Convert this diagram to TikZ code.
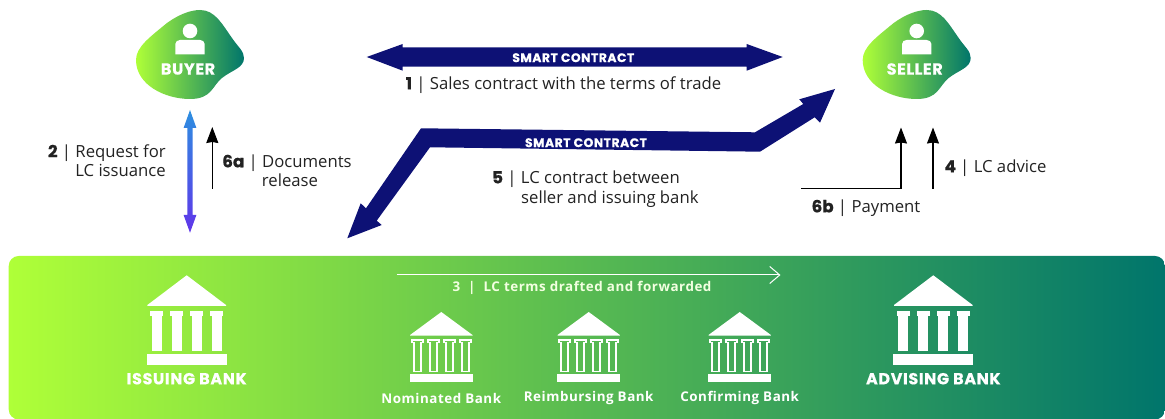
\documentclass[tikz,border=0pt]{standalone}
\usepackage{fontspec}
\usetikzlibrary{arrows.meta}
\setmainfont{Open Sans}
\newfontfamily\headfont[LetterSpace=4, BoldFeatures={FakeBold=0.5}]{Poppins}
\newfontfamily\numfont[BoldFeatures={FakeBold=0.8}]{Poppins}
\newfontfamily\tagfont[LetterSpace=4]{Open Sans}
\definecolor{lime}{HTML}{AFFF38}
\definecolor{teal2}{HTML}{00756B}
\definecolor{navy}{HTML}{0D1175}
\definecolor{ink}{HTML}{222222}
\definecolor{skyblue}{HTML}{2D8FE0}
\definecolor{violetblue}{HTML}{6035EA}
\tikzset{
	label/.style={inner sep=0pt, text=ink, font=\fontsize{16.7}{19}\selectfont},
	head/.style={inner sep=0pt, text=white, font=\headfont\bfseries\fontsize{16}{18}\selectfont},
	smart/.style={inner sep=0pt, text=white, font=\headfont\bfseries\fontsize{12.4}{14}\selectfont},
	tag/.style={inner sep=0pt, text=white, font=\tagfont\bfseries\fontsize{13.4}{15}\selectfont},
	thin arrow/.style={draw=black, line width=1.1pt, -{Stealth[length=16pt,width=12pt,inset=1pt]}},
}
\newcommand{\lcnum}[1]{{\numfont\bfseries #1}}
\newcommand{\party}[4] % name, x shift, y shift, text
{
	\begin{scope}[shift={(#2,#3)}]
		% blob
		\shade[left color=lime, right color=teal2] (136,60) .. controls (136,47) and (150,37) .. (167,23)
			.. controls (178,15) and (190,10) .. (200,10) .. controls (215,10) and (222,24) .. (232,38)
			.. controls (238,47) and (244,51) .. (244,58) .. controls (244,68) and (232,70) .. (222,78)
			.. controls (212,86) and (212,99) .. (190,99) .. controls (165,99) and (136,85) .. (136,60) -- cycle;
		% person
		\fill[white] (190,31) circle (7.3);
		\fill[white] (175.3,54.3) -- (175.3,44) to[out=90,in=180] (180,40) -- (200,40) to[out=0,in=90] (204.7,44) -- (204.7,54.3) -- cycle;
		\node[head] (#1) at (188,69) {#4};
	\end{scope}
}
\newcommand{\bigbank}[1] % x of centre
{
	\begin{scope}[shift={(#1,0)}]
		% roof
		\fill[white] (0,275.3) -- (39.3,305) -- (39.3,306) -- (-39.3,306) -- (-39.3,305) -- cycle;
		% columns
		\foreach \c in {-30,-10,10,30} {
			\fill[white] (\c-6.7,311.3) rectangle (\c+6.7,315.7);
			\fill[white] (\c-4.9,315.7) rectangle (\c+4.9,351.3);
		}
		% base
		\fill[white] (-40,354) rectangle (40,365);
	\end{scope}
}
\newcommand{\smallbank}[1] % x of centre
{
	\begin{scope}[shift={(#1,0)}]
		% roof
		\fill[white] (0,312) -- (31.2,335) -- (31.2,335.7) -- (-31.2,335.7) -- (-31.2,335) -- cycle;
		% columns
		\foreach \c in {-24,-8,8,24} {
			\draw[white, line width=1.6pt] (\c-5.5,340) -- (\c+5.5,340) -- (\c+5.5,342.7) -- (\c+3.5,342.7) -- (\c+3.5,371.5) -- (\c-3.5,371.5) -- (\c-3.5,342.7) -- (\c-5.5,342.7) -- cycle;
		}
		% base
		\fill[white] (-31.5,374.3) rectangle (31.5,382);
	\end{scope}
}

\begin{document}
\begin{tikzpicture}[x=1pt, y=-1pt]
	% 1165 x 419
	\useasboundingbox (0,0) rectangle (1165,419);
	
	% bank panel
	\shade[left color=lime, right color=teal2, rounded corners=10pt] (8.7,256) rectangle (1165,419.5);
	\bigbank{186.7};
	\bigbank{933.3};
	\smallbank{441.3};
	\smallbank{588.7};
	\smallbank{739.7};
	\node[head] (issuing) at (186.7,378.7) {ISSUING BANK};
	\node[head] (advising) at (933.3,378.7) {ADVISING BANK};
	\node[tag] (nominated) at (441.3,398) {Nominated Bank};
	\node[tag] (reimbursing) at (588.7,398) {Reimbursing Bank};
	\node[tag] (confirming) at (739.7,398) {Confirming Bank};
	
	% forwarding
	\coordinate (draftstart) at (396.7,275);
	\coordinate (draftend) at (780.5,275);
	\draw[white, line width=1pt, -{Straight Barb[length=10pt,width=17pt]}] (draftstart) -- (draftend);
	\node[tag, text=white!85!lime] (draft) at (582,287.5) {3\hspace{0.6em}|\hspace{0.6em}LC terms drafted and forwarded};
	
	% parties
	\party{buyer}{0}{0}{BUYER};
	\party{seller}{726.7}{0}{SELLER};
	
	% smart contract 1
	\coordinate (salesw) at (366.7,57);
	\coordinate (salese) at (782.7,57);
	\fill[navy] (salesw) -- (402.7,44) -- (402.7,47.3) -- (746.7,47.3) -- (746.7,44) -- (salese) -- (746.7,70.7) -- (746.7,66.7) -- (402.7,66.7) -- (402.7,70.7) -- cycle;
	\node[smart] (smartsales) at (573.3,57.7) {SMART CONTRACT};
	\node[label] (sales) at (563.5,85) {\lcnum{1} | Sales contract with the terms of trade};
	
	% smart contract 5
	\coordinate (lcw) at (347.3,238.3);
	\coordinate (lce) at (835,89);
	\fill[navy] (lcw) -- (360.7,203.3) -- (366,208.3) -- (421,128.3) -- (755,132.3) -- (803.3,104) -- (799.3,99.3) -- (lce) -- (820,122.7) -- (814.7,117.3) -- (760,151.7) -- (430,147.3) -- (376.7,220.7) -- (381.7,225) -- cycle;
	\node[smart] (smartlc) at (586,142.7) {SMART CONTRACT};
	\node[label, align=left, anchor=north west] (lc) at (492,170.5) {\lcnum{5} | LC contract between\\[1pt]\hspace*{29pt}seller and issuing bank};
	
	% request, gradient double arrow
	\coordinate (requestn) at (190,110);
	\coordinate (requests) at (190,232.7);
	\shade[top color=skyblue, bottom color=violetblue] (requestn) -- (196.4,128) -- (192.7,128) -- (192.7,215) -- (196.4,215) -- (requests) -- (183.6,215) -- (187.3,215) -- (187.3,128) -- (183.6,128) -- cycle;
	\node[label, align=right, anchor=east] (request) at (166,160.5) {\lcnum{2} | Request for\\LC issuance};
	
	% documents
	\coordinate (docstart) at (212.3,188.7);
	\coordinate (docend) at (212.3,127);
	\draw[thin arrow] (docstart) -- (docend);
	\node[label, align=center] (docs) at (287,170.5) {\lcnum{6a} | Documents\\\hspace*{6pt}release};
	
	% payment
	\coordinate (paystart) at (801,188.7);
	\coordinate (paycorner) at (901,188.7);
	\coordinate (payend) at (901,127.5);
	\draw[thin arrow] (paystart) -- (paycorner) -- (payend);
	\node[label] (pay) at (866,208) {\lcnum{6b} | Payment};
	
	% advice
	\coordinate (advicestart) at (933,188.7);
	\coordinate (adviceend) at (933,127.5);
	\draw[thin arrow] (advicestart) -- (adviceend);
	\node[label] (advice) at (995.5,168) {\lcnum{4} | LC advice};
\end{tikzpicture}
\end{document}
